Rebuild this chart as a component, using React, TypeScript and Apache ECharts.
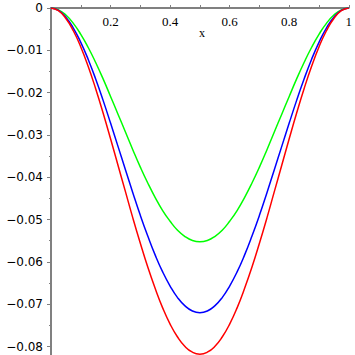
import React, { useEffect, useRef } from "react";
import * as echarts from "echarts";

const xs = [0, 0.025, 0.05, 0.075, 0.1, 0.125, 0.15, 0.175, 0.2, 0.225, 0.25, 0.275, 0.3, 0.325, 0.35, 0.375, 0.4, 0.425, 0.45, 0.475, 0.5,
  0.525, 0.55, 0.575, 0.6, 0.625, 0.65, 0.675, 0.7, 0.725, 0.75, 0.775, 0.8, 0.825, 0.85, 0.875, 0.9, 0.925, 0.95, 0.975, 1];
const red = [0, -0.00064, -0.00248, -0.00538, -0.00921, -0.01382, -0.01907, -0.02481, -0.0309, -0.03715, -0.0434, -0.04966, -0.0556, -0.06123, -0.0663, -0.07086, -0.0747, -0.07775, -0.08, -0.08134, -0.0818,
  -0.08134, -0.08, -0.07775, -0.0747, -0.07086, -0.0663, -0.06123, -0.0556, -0.04966, -0.0434, -0.03715, -0.0309, -0.02481, -0.01907, -0.01382, -0.00921, -0.00538, -0.00248, -0.00064, 0];
const blue = [0, -0.00056, -0.00218, -0.00473, -0.00811, -0.01216, -0.01678, -0.02183, -0.0272, -0.0327, -0.0382, -0.04371, -0.049, -0.05389, -0.0584, -0.06237, -0.0657, -0.06844, -0.0704, -0.0716, -0.072,
  -0.0716, -0.0704, -0.06844, -0.0657, -0.06237, -0.0584, -0.05389, -0.049, -0.04371, -0.0382, -0.0327, -0.0272, -0.02183, -0.01678, -0.01216, -0.00811, -0.00473, -0.00218, -0.00056, 0];
const green = [0, -0.00043, -0.00167, -0.00363, -0.00622, -0.00933, -0.01288, -0.01676, -0.0209, -0.02509, -0.0293, -0.03354, -0.0376, -0.04136, -0.0448, -0.04786, -0.0504, -0.05252, -0.054, -0.05494, -0.05525,
  -0.05494, -0.054, -0.05252, -0.0504, -0.04786, -0.0448, -0.04136, -0.0376, -0.03354, -0.0293, -0.02509, -0.0209, -0.01676, -0.01288, -0.00933, -0.00622, -0.00363, -0.00167, -0.00043, 0];
const xLabels = [0.2, 0.4, 0.6, 0.8, 1];
const xTicks = [0.1, 0.2, 0.3, 0.4, 0.5, 0.6, 0.7, 0.8, 0.9, 1];
const yLabels = [0, -0.01, -0.02, -0.03, -0.04, -0.05, -0.06, -0.07, -0.08];
const yMinor = [-0.005, -0.015, -0.025, -0.035, -0.045, -0.055, -0.065, -0.075];

const axisGray = "#808080";

export default function App() {
  const ref = useRef<HTMLDivElement>(null);
  useEffect(() => {
    const chart = echarts.init(ref.current!, null, { renderer: "svg" });
    const mk = (ys: number[]) => xs.map((x, i) => [x, ys[i]]);
    chart.setOption({
      animation: false,
      grid: { left: 51, right: 4, top: 8, height: 347 },
      xAxis: {
        type: "value",
        min: 0,
        max: 1,
        position: "top",
        splitLine: { show: false },
        axisLine: { lineStyle: { color: axisGray, width: 2 } },
        axisTick: { show: true, inside: false, length: 3, customValues: xTicks, lineStyle: { color: axisGray } },
        axisLabel: {
          inside: true,
          margin: 7,
          customValues: xLabels,
          color: "#000",
          fontFamily: "Liberation Serif",
          fontSize: 13,
          formatter: (v: number) => (v === 1 ? "1" : String(v)),
        },
      },
      yAxis: [
        {
          type: "value",
          min: -0.082,
          max: 0,
          position: "left",
          splitLine: { show: false },
          axisLine: { lineStyle: { color: axisGray, width: 2 } },
          axisTick: { length: 4, customValues: yLabels, lineStyle: { color: axisGray } },
          axisLabel: {
            margin: 8,
            customValues: yLabels,
            color: "#000",
            fontFamily: "DejaVu Sans",
            fontSize: 12,
            formatter: (v: number) => (v === 0 ? "0" : "\u2212" + Math.abs(v).toFixed(2)),
          },
        },
        {
          type: "value",
          min: -0.082,
          max: 0,
          position: "left",
          splitLine: { show: false },
          axisLine: { show: false },
          axisTick: { length: 2, customValues: yMinor, lineStyle: { color: axisGray } },
          axisLabel: { show: false },
        },
      ],
      graphic: [
        {
          type: "text",
          x: 202,
          y: 33,
          style: { text: "x", font: "12px 'Liberation Serif'", fill: "#000", align: "center", verticalAlign: "middle" },
        },
      ],
      series: [
        { type: "line", data: mk(green), smooth: true, showSymbol: false, lineStyle: { color: "#00ff00", width: 1.5 } },
        { type: "line", data: mk(blue), smooth: true, showSymbol: false, lineStyle: { color: "#0000ff", width: 1.5 } },
        { type: "line", data: mk(red), smooth: true, showSymbol: false, lineStyle: { color: "#ff0000", width: 1.5 } },
      ],
    });
    return () => chart.dispose();
  }, []);
  return <div ref={ref} style={{ position: "absolute", left: 0, top: 0, width: 355, height: 355 }} />;
}
